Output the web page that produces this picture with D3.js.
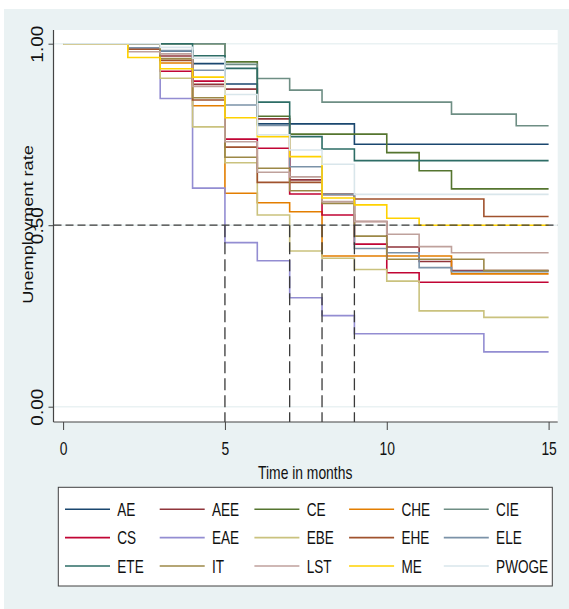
<!DOCTYPE html>
<html>
<head>
<meta charset="utf-8">
<script src="https://cdn.jsdelivr.net/npm/d3@7"></script>
<style>
  body { margin: 0; background: #fff; }
  text { font-family: "Liberation Sans", Arial, Helvetica, sans-serif; fill: #111; }
</style>
</head>
<body>
<svg id="chart" width="569" height="609"></svg>
<script>
// months 0..15, survivor value on [t, t+1)
const months = d3.range(0, 16);
const AE    = [1, 1, 1, 0.98, 0.945, 0.889, 0.779, 0.779, 0.779, 0.723, 0.723, 0.723, 0.723, 0.723, 0.723, 0.723];
const AEE   = [1, 1, 0.985, 0.966, 0.888, 0.875, 0.793, 0.625, 0.585, 0.51, 0.44, 0.40, 0.375, 0.375, 0.375, 0.375];
const CE    = [1, 1, 1, 1, 1, 0.95, 0.80, 0.751, 0.751, 0.751, 0.70, 0.65, 0.60, 0.60, 0.60, 0.60];
const CHE   = [1, 1, 1, 0.947, 0.829, 0.588, 0.562, 0.537, 0.415, 0.415, 0.415, 0.415, 0.366, 0.366, 0.366, 0.366];
const CIE   = [1, 1, 1, 1, 1, 0.943, 0.904, 0.872, 0.839, 0.839, 0.839, 0.839, 0.806, 0.806, 0.774, 0.774];
const CS    = [1, 1, 1, 0.924, 0.897, 0.737, 0.712, 0.586, 0.528, 0.448, 0.369, 0.343, 0.343, 0.343, 0.343, 0.343];
const EAE   = [1, 1, 1, 0.849, 0.602, 0.452, 0.402, 0.30, 0.251, 0.201, 0.201, 0.201, 0.201, 0.151, 0.151, 0.151];
const EBE   = [1, 1, 1, 0.905, 0.771, 0.672, 0.528, 0.429, 0.409, 0.378, 0.346, 0.264, 0.264, 0.246, 0.246, 0.246];
const EHE   = [1, 1, 0.985, 0.954, 0.845, 0.715, 0.618, 0.618, 0.585, 0.572, 0.572, 0.572, 0.572, 0.524, 0.524, 0.524];
const ELE   = [1, 1, 0.989, 0.981, 0.927, 0.831, 0.775, 0.661, 0.585, 0.436, 0.424, 0.383, 0.372, 0.372, 0.372, 0.372];
const ETE   = [1, 1, 1, 1, 0.967, 0.932, 0.839, 0.744, 0.71, 0.678, 0.678, 0.678, 0.678, 0.678, 0.678, 0.678];
const IT    = [1, 1, 1, 0.959, 0.851, 0.687, 0.657, 0.595, 0.56, 0.47, 0.406, 0.406, 0.406, 0.375, 0.375, 0.375];
const LST   = [1, 1, 0.978, 0.972, 0.882, 0.730, 0.646, 0.633, 0.565, 0.51, 0.475, 0.441, 0.424, 0.424, 0.424, 0.424];
const ME    = [1, 1, 0.962, 0.931, 0.908, 0.796, 0.744, 0.689, 0.575, 0.556, 0.519, 0.50, 0.50, 0.50, 0.50, 0.50];
const PWOGE = [1, 1, 1, 0.99, 0.96, 0.86, 0.749, 0.707, 0.668, 0.585, 0.585, 0.585, 0.585, 0.585, 0.585, 0.585];

const seriesNames = ['AE', 'AEE', 'CE', 'CHE', 'CIE', 'CS', 'EAE', 'EBE', 'EHE', 'ELE', 'ETE', 'IT', 'LST', 'ME', 'PWOGE'];
const seriesValues = [AE, AEE, CE, CHE, CIE, CS, EAE, EBE, EHE, ELE, ETE, IT, LST, ME, PWOGE];
const seriesColors = ['#1a476f', '#90353b', '#55752f', '#e37e00', '#6e8e84', '#c10534', '#938dd2', '#cac27e',
                      '#a0522d', '#7b92a8', '#2d6d66', '#9c8847', '#bfa19c', '#ffd200', '#d9e6eb'];

const xTicks = [0, 5, 10, 15];
const yTicks = [0, 0.5, 1];
const yTickLabels = ['0.00', '0.50', '1.00'];
const medianMonths = [5, 7, 8, 9];   // where the curves cross 0.5
const refLevel = 0.5;

const svg = d3.select('#chart');

// page background + plot region
svg.append('rect').attr('x', 4).attr('y', 9).attr('width', 565).attr('height', 600).attr('fill', '#eaf2f3');
const plot = { left: 53.5, right: 557.7, top: 30, bottom: 422 };
svg.append('rect')
  .attr('x', plot.left).attr('y', plot.top)
  .attr('width', plot.right - plot.left).attr('height', plot.bottom - plot.top)
  .attr('fill', '#fff');

const xScale = d3.scaleLinear().domain([0, 15]).range([63.1, 548.6]);
const yScale = d3.scaleLinear().domain([0, 1]).range([406.7, 43.7]);

// gridlines
svg.append('g').selectAll('line')
  .data(yTicks)
  .join('line')
  .attr('x1', plot.left).attr('x2', plot.right)
  .attr('y1', d => yScale(d)).attr('y2', d => yScale(d))
  .attr('stroke', '#eaf2f3')
  .attr('stroke-width', 1.5);

// survival curves
const line = d3.line()
  .x(d => xScale(d[0]))
  .y(d => yScale(d[1]))
  .curve(d3.curveStepAfter);

svg.append('g')
  .selectAll('path')
  .data(seriesValues)
  .join('path')
  .attr('d', vals => line(months.map((m, i) => [m, vals[i]])))
  .attr('fill', 'none')
  .attr('stroke', (d, i) => seriesColors[i])
  .attr('stroke-width', 1.6);

// reference lines
svg.append('line')
  .attr('x1', plot.left).attr('x2', plot.right)
  .attr('y1', yScale(refLevel)).attr('y2', yScale(refLevel))
  .attr('stroke', '#3a3a3a').attr('stroke-width', 1.3)
  .attr('stroke-dasharray', '8,4');

svg.append('g').selectAll('line')
  .data(medianMonths)
  .join('line')
  .attr('x1', d => xScale(d)).attr('x2', d => xScale(d))
  .attr('y1', yScale(refLevel)).attr('y2', plot.bottom)
  .attr('stroke', '#3a3a3a').attr('stroke-width', 1.3)
  .attr('stroke-dasharray', '12,5');

// axes
const xAxis = d3.axisBottom(xScale).tickValues(xTicks).tickSize(8).tickSizeOuter(0).tickFormat(d3.format('d'));
const xAxisG = svg.append('g').attr('transform', `translate(0,${plot.bottom})`).call(xAxis);
xAxisG.select('.domain').remove();
xAxisG.selectAll('.tick line').attr('stroke', '#444');
xAxisG.selectAll('.tick text')
  .attr('y', null).attr('dy', null)
  .attr('font-size', 19)
  .attr('fill', '#111')
  .attr('transform', 'translate(0,33) scale(0.73,1)');

const yAxis = d3.axisLeft(yScale).tickValues(yTicks).tickSize(5).tickSizeOuter(0)
  .tickFormat((d, i) => yTickLabels[i]);
const yAxisG = svg.append('g').attr('transform', `translate(${plot.left},0)`).call(yAxis);
yAxisG.select('.domain').remove();
yAxisG.selectAll('.tick line').attr('stroke', '#444');
yAxisG.selectAll('.tick text')
  .attr('x', null).attr('dy', null)
  .attr('font-size', 19)
  .attr('fill', '#111')
  .attr('text-anchor', 'middle')
  .attr('transform', 'translate(-10.2,0) scale(0.86,1) rotate(-90)');

svg.append('line')
  .attr('x1', plot.left).attr('x2', plot.right)
  .attr('y1', plot.bottom).attr('y2', plot.bottom)
  .attr('stroke', '#444').attr('stroke-width', 1.2);
svg.append('line')
  .attr('x1', plot.left).attr('x2', plot.left)
  .attr('y1', plot.top).attr('y2', plot.bottom)
  .attr('stroke', '#444').attr('stroke-width', 1.2);

// axis titles
svg.append('text')
  .attr('text-anchor', 'middle')
  .attr('font-size', 19)
  .attr('transform', 'translate(305.2,479) scale(0.73,1)')
  .text('Time in months');

svg.append('text')
  .attr('text-anchor', 'middle')
  .attr('font-size', 18.2)
  .attr('transform', 'translate(33.3,224.5) scale(0.82,1) rotate(-90)')
  .text('Unemployment rate');

// legend
const legend = svg.append('g');
legend.append('rect')
  .attr('x', 58.3).attr('y', 487.3)
  .attr('width', 494).attr('height', 98.7)
  .attr('fill', '#fff')
  .attr('stroke', '#404040').attr('stroke-width', 1);

const colStep = 94.7, rowStep = 28.35;
const items = legend.selectAll('g.item')
  .data(seriesNames)
  .join('g')
  .attr('class', 'item')
  .attr('transform', (d, i) => `translate(${65 + (i % 5) * colStep},${509.3 + Math.floor(i / 5) * rowStep})`);

items.append('line')
  .attr('x1', 0).attr('x2', 45)
  .attr('stroke', (d, i) => seriesColors[i])
  .attr('stroke-width', 1.6);

items.append('text')
  .attr('font-size', 18.6)
  .attr('transform', 'translate(52.3,6.7) scale(0.73,1)')
  .text(d => d);
</script>
</body>
</html>
